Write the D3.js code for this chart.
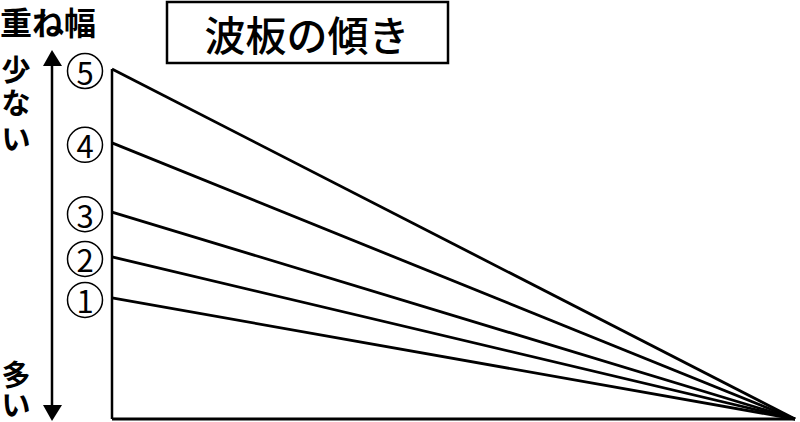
<!DOCTYPE html>
<html lang="ja">
<head>
<meta charset="UTF-8">
<title>波板の傾き</title>
<style>
  body { margin: 0; background: #fff; }
  svg { display: block; }
  text { font-family: "Noto Sans CJK JP", "Noto Sans", sans-serif; fill: #000; }
</style>
</head>
<body>
<svg id="chart" width="800" height="422"></svg>
<script src="https://cdn.jsdelivr.net/npm/d3@7/dist/d3.min.js"></script>
<script>
// 重ね幅のラベルと、左端での波板の高さ（下辺=0、⑤=100）
var labels = ["1", "2", "3", "4", "5"];
var heights = [34.6, 46.3, 59.1, 78.9, 100];
var title = "波板の傾き";
var yLabel = "重ね幅";
var topLabel = ["少", "な", "い"];
var bottomLabel = ["多", "い"];

var svg = d3.select("#chart");
var x = d3.scaleLinear().domain([0, 1]).range([112, 795]);
var y = d3.scaleLinear().domain([0, 100]).range([419, 69]);

// title box
svg.append("rect")
  .attr("x", 167).attr("y", 2).attr("width", 281).attr("height", 61)
  .attr("fill", "none").attr("stroke", "#000").attr("stroke-width", 2.5);
svg.append("text")
  .attr("x", 307).attr("y", 33)
  .attr("text-anchor", "middle").attr("dominant-baseline", "central")
  .attr("font-size", 41).attr("font-weight", 500)
  .text(title);

// 重ね幅
svg.append("text")
  .attr("x", 0).attr("y", 21)
  .attr("dominant-baseline", "central")
  .attr("font-size", 32).attr("font-weight", 700)
  .text(yLabel);

// vertical double arrow
svg.append("line")
  .attr("x1", 52).attr("x2", 52).attr("y1", 64).attr("y2", 406)
  .attr("stroke", "#000").attr("stroke-width", 2.5);
svg.append("path").attr("d", "M52,50L43,66L62,66Z").attr("fill", "#000");
svg.append("path").attr("d", "M52,421L43,405L62,405Z").attr("fill", "#000");

// vertical labels, one text each with a tspan per character
function vertical(chars, ys) {
  svg.append("text")
    .attr("text-anchor", "middle").attr("dominant-baseline", "central")
    .attr("font-size", 29).attr("font-weight", 700)
    .selectAll("tspan")
    .data(chars)
    .join("tspan")
    .attr("x", 16).attr("y", (d, i) => ys[i])
    .text(d => d);
}
vertical(topLabel, [68, 101, 137]);
vertical(bottomLabel, [373, 403]);

// frame: left edge and bottom edge
svg.append("line")
  .attr("x1", x(0)).attr("x2", x(0)).attr("y1", y(100)).attr("y2", y(0))
  .attr("stroke", "#000").attr("stroke-width", 2.5);
svg.append("line")
  .attr("x1", x(0)).attr("x2", x(1)).attr("y1", y(0)).attr("y2", y(0))
  .attr("stroke", "#000").attr("stroke-width", 3);

// slope lines
var line = d3.line().x(d => x(d[0])).y(d => y(d[1]));
svg.selectAll("path.slope")
  .data(heights)
  .join("path")
  .attr("class", "slope")
  .attr("d", d => line([[0, d], [1, 0]]))
  .attr("fill", "none").attr("stroke", "#000").attr("stroke-width", 2.8);

// circled numbers
var marks = svg.selectAll("g.mark")
  .data(labels.map((l, i) => ({ label: l, h: heights[i] })))
  .join("g")
  .attr("class", "mark")
  .attr("transform", d => `translate(85,${y(d.h) + 2})`);
marks.append("circle")
  .attr("r", 17.5).attr("fill", "#fff").attr("stroke", "#000").attr("stroke-width", 1.5);
marks.append("text")
  .attr("text-anchor", "middle").attr("dominant-baseline", "central")
  .attr("font-size", 31)
  .attr("font-family", "'Liberation Sans Narrow', 'Liberation Sans', sans-serif")
  .text(d => d.label);
</script>
</body>
</html>
